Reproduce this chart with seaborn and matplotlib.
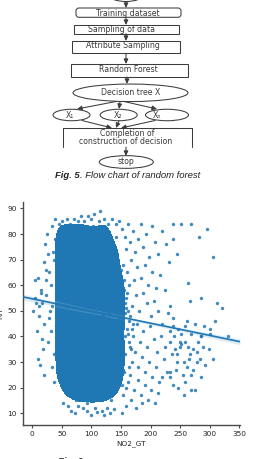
import matplotlib
matplotlib.use("Agg")
import matplotlib.pyplot as plt
from matplotlib.patches import Ellipse, FancyBboxPatch, Rectangle
from matplotlib.colors import ListedColormap
import numpy as np
import seaborn as sns

# ---------------- data ----------------
flow_labels = ["Training dataset", "Sampling of data", "Attribute Sampling",
               "Random Forest", "Decision tree X", "X\u2081", "X\u2082", "X\u2099",
               "Completion of", "construction of decision", "stop"]
caption_top = ["Fig. 5", ". Flow chart of random forest"]
caption_bottom = ["Fig. 6", ". Prediction of RH with NO2"]

x_label = "NO2_GT"
y_label = "RH"
x_ticks = [0, 50, 100, 150, 200, 250, 300, 350]
y_ticks = [10, 20, 30, 40, 50, 60, 70, 80, 90]

# dense core of the cloud
core_no2 = [47, 50, 46, 49, 48, 51, 47, 50, 48,
            57, 60, 56, 59, 58, 61, 57, 60, 58, 59,
            68, 66, 69, 67, 70, 68, 66, 69, 67, 70,
            78, 76, 79, 77, 80, 78, 76, 79, 77, 80,
            88, 86, 89, 87, 90, 88, 86, 89, 87, 90,
            98, 96, 99, 97, 100, 98, 96, 99, 97, 100,
            108, 106, 109, 107, 110, 108, 106, 109, 107, 110,
            118, 116, 119, 117, 120, 118, 116, 119, 117, 120,
            128, 126, 129, 127, 130, 128, 126, 129, 127,
            138, 136, 139, 137, 140, 138, 136, 139,
            146, 148, 145, 147, 149, 146]
core_rh = [27, 34, 41, 48, 55, 61, 67, 73, 78,
           22, 29, 36, 43, 50, 56, 62, 68, 73, 78,
           21, 28, 35, 42, 49, 55, 61, 67, 73, 78,
           20, 27, 34, 41, 48, 54, 60, 66, 72, 78,
           20, 27, 34, 41, 48, 54, 60, 66, 72, 78,
           20, 26, 33, 40, 47, 53, 59, 65, 71, 77,
           20, 26, 33, 40, 47, 53, 59, 65, 71, 77,
           20, 27, 34, 41, 48, 54, 60, 66, 72, 78,
           21, 28, 35, 42, 49, 56, 63, 70, 77,
           22, 29, 36, 43, 50, 57, 64, 71,
           26, 33, 40, 47, 54, 61]

# ragged edge of the core
edge_no2 = [45, 50, 58, 63, 70, 78, 83, 88, 95, 100, 105, 112, 115, 122, 128, 135, 142, 147,
            52, 60, 66, 72, 78, 85, 92, 100, 106, 110, 118, 121, 126, 131, 138, 152,
            40, 42, 44, 41, 45, 43,
            54, 67, 74, 92, 103, 118, 133, 141, 150, 153, 155, 151]
edge_rh = [84, 85, 86, 84, 86, 85, 87, 85, 87, 86, 88, 85, 89, 86, 84, 86, 84, 85,
           14, 13, 11, 10, 13, 12, 11, 9.5, 12, 10.5, 11, 9.5, 12, 10, 11.5, 10,
           34, 58, 68, 49, 24, 78,
           82, 83, 15, 14, 83, 82, 15, 79, 66, 27, 58, 21]

# sparse points left of the core
left_no2 = [2, 4, 6, 9, 8, 12, 14, 16, 10, 13, 18, 20, 15, 24, 30, 35, 38, 33, 25, 22,
            20, 26, 28, 31, 24, 17, 29, 27, 33, 36, 37, 34, 11, 5, 32, 36, 39, 40, 19, 23]
left_rh = [50, 62, 53, 63, 42, 48, 57, 39, 31, 29, 35, 25, 58, 66, 50, 73, 86, 83, 80, 76,
           69, 72, 65, 60, 56, 53, 47, 38, 28, 22, 70, 52, 52, 55, 42, 33, 78, 44, 45, 62]

# medium-density band right of the core
mid_no2 = [151, 156, 162, 158, 165, 170, 174, 179, 184, 188, 193, 197, 203, 208, 213, 219, 226, 231,
           153, 160, 167, 172, 177, 183, 190, 196, 202, 209, 216, 224,
           152, 158, 164, 169, 175, 181, 187, 194, 200, 206, 212, 220, 229,
           154, 160, 166, 171, 177, 182, 188, 194, 199, 205, 211, 217, 225, 232,
           151, 157, 163, 168, 174, 179, 185, 191, 197, 203, 209, 215, 222, 228,
           155, 161, 166, 172, 178, 184, 190, 196, 201, 207, 213, 220,
           153, 159, 167, 176, 186,
           150, 155, 162, 157, 150, 163, 152, 158, 165, 170, 160, 167,
           153, 157, 161, 156, 164, 152, 159, 168]
mid_rh = [82, 79, 84, 74, 77, 81, 73, 78, 84, 75, 80, 71, 83, 77, 72, 81, 76, 69,
          68, 65, 70, 62, 67, 63, 68, 60, 65, 59, 64, 58,
          58, 55, 60, 52, 56, 50, 57, 53, 48, 54, 50, 45, 49,
          47, 43, 48, 40, 45, 38, 42, 36, 44, 39, 34, 40, 36, 42,
          36, 33, 38, 30, 34, 28, 32, 26, 30, 24, 28, 22, 31, 26,
          26, 22, 25, 19, 23, 17, 21, 15, 19, 14, 18, 24,
          17, 13, 15, 12, 14,
          42, 62, 50, 40, 45, 28, 30, 20, 36, 45, 57, 35,
          44, 49, 41, 53, 46, 39, 51, 43]

# scattered high-NO2 points
far_no2 = [252, 268, 263, 295, 266, 306, 282, 275, 252, 301, 309, 289, 285, 266, 312, 320, 286,
           258, 261, 269, 286, 331, 258, 271, 283, 269, 255, 278, 278, 258, 247, 238, 238, 244,
           238, 241, 233, 238, 247, 233, 244, 233, 238, 250, 262, 290, 245, 252, 275, 300, 265,
           240, 256, 232, 236, 243, 249, 257, 263, 272, 281, 292, 298, 285, 305, 268]
far_rh = [84, 84, 61, 82, 54, 71, 79, 45, 37, 41, 46, 36, 55, 33, 53, 51, 40,
          44, 46, 41, 40, 40, 38, 35, 31, 25, 25, 30, 34, 22, 20, 84, 78, 72,
          44, 35, 52, 47, 43, 38, 30, 26, 21, 36, 28, 44, 33, 41, 19, 43, 31,
          40, 17, 24, 33, 27, 38, 30, 36, 27, 38, 29, 35, 24, 31, 19]

no2 = np.array(core_no2 + edge_no2 + left_no2 + mid_no2 + far_no2, dtype=float)
rh = np.array(core_rh + edge_rh + left_rh + mid_rh + far_rh, dtype=float)

# ---------------- style ----------------
sns.set_theme(style="ticks")
plt.rcParams["font.family"] = ["DejaVu Sans"]

BLUE = "#1f77b4"
LC = "#3c3c3c"
LW = 0.75
W, H = 261, 459

fig = plt.figure(figsize=(W / 100, H / 100), dpi=100)
fig.patch.set_facecolor("white")

# ---------------- flow chart (pixel coordinates) ----------------
fax = fig.add_axes([0, 0, 1, 1])
fax.set_xlim(0, W)
fax.set_ylim(H, 0)
fax.axis("off")

tkw = dict(family="DejaVu Sans", fontsize=5.6, color="#3a3a3a", ha="center", va="center")


def arrow(x0, y0, x1, y1):
    fax.annotate("", xy=(x1, y1), xytext=(x0, y0),
                 arrowprops=dict(arrowstyle="-|>,head_length=0.28,head_width=0.13",
                                 lw=LW, color=LC, shrinkA=0, shrinkB=0, mutation_scale=10))


def ell(cx, cy, w, h):
    fax.add_patch(Ellipse((cx, cy), w, h, fill=False, ec=LC, lw=LW))


def rect(x0, y0, x1, y1):
    fax.add_patch(Rectangle((x0, y0), x1 - x0, y1 - y0, fill=False, ec=LC, lw=LW))


ell(126, -5, 34, 13)
arrow(126, 1.5, 126, 8)
fax.add_patch(FancyBboxPatch((76, 8), 105, 9.3, boxstyle="round,pad=0,rounding_size=3",
                             fill=False, ec=LC, lw=LW))
fax.text(128, 13, flow_labels[0], **tkw)
arrow(126, 17.3, 126, 25)
rect(74, 25, 179, 33.7)
fax.text(121, 29.6, flow_labels[1], **tkw)
arrow(126, 33.7, 126, 41)
rect(72, 41, 180, 53.3)
fax.text(122.5, 46, flow_labels[2], **tkw)
arrow(126, 53.3, 126, 64)
rect(71, 64, 188, 77)
fax.text(128.5, 70, flow_labels[3], **tkw)
arrow(127, 77, 127, 84)
ell(130.5, 92.8, 115, 17.5)
fax.text(130.5, 92.6, flow_labels[4], **tkw)
arrow(116, 101.5, 77, 109)
arrow(120, 101.6, 119, 109)
arrow(124, 101.5, 157, 109)
ell(71.5, 115, 37, 11.5)
ell(118.7, 115, 37, 11.5)
ell(167, 115, 43, 11.5)
fax.text(70, 115, flow_labels[5], **tkw)
fax.text(118, 115, flow_labels[6], **tkw)
fax.text(157, 115, flow_labels[7], **tkw)
arrow(82, 120.5, 112, 128)
arrow(119, 120.8, 116, 128)
arrow(155, 120.5, 121, 128)
fax.plot([63, 63, 192, 192], [147, 128, 128, 147], color=LC, lw=LW)
fax.text(127, 134, flow_labels[8], **tkw)
t2 = fax.text(126, 142, flow_labels[9], **tkw)
t2.set_clip_path(Rectangle((55, 120), 150, 25.5, transform=fax.transData))
arrow(126, 147, 126, 156)
ell(126.3, 162, 54, 12.7)
fax.text(126.3, 161.7, flow_labels[10], **tkw)

ckw = dict(family="Liberation Sans", fontsize=6.8, color="#222222", va="center")
c1 = fax.text(55, 175.5, caption_top[0], fontweight="bold", fontstyle="italic", ha="left", **ckw)
fax.annotate(caption_top[1], xy=(1, 0.5), xycoords=c1, ha="left", fontstyle="italic", **ckw)

# caption of the next figure, cut by the bottom edge (only glyph tops show)
bkw = dict(family="Liberation Sans", fontsize=6.8, color="#333333", va="baseline")
b1 = fax.text(58, 463.6, caption_bottom[0], fontweight="bold", fontstyle="italic", ha="left", **bkw)
fax.annotate(caption_bottom[1], xy=(1, 0), xycoords=b1, ha="left", fontstyle="italic",
             annotation_clip=False, **bkw)

# ---------------- scatter + regression ----------------
ax = fig.add_axes([23 / W, (H - 425) / H, 217 / W, 223 / H])
ax.set_facecolor("none")
sns.kdeplot(x=core_no2, y=core_rh, fill=True, levels=[0.05, 1], bw_adjust=0.55,
            cmap=ListedColormap([BLUE]), alpha=1.0, ax=ax, zorder=1)
XL = (-15.7, 351.2)
YL = (5.4, 92.5)
ax.set_xlim(*XL)
ax.set_ylim(*YL)
sns.regplot(x=no2, y=rh, ax=ax, color=BLUE, ci=40, n_boot=400, seed=3, truncate=False,
            scatter_kws=dict(s=6, linewidths=0, alpha=0.85, zorder=2),
            line_kws=dict(lw=1.2, zorder=4))
ax.set_xlim(*XL)
ax.set_ylim(*YL)
ax.set_xticks(x_ticks)
ax.set_yticks(y_ticks)
sns.despine(ax=ax)
for s in ("left", "bottom"):
    ax.spines[s].set_color("#4a4a4a")
    ax.spines[s].set_linewidth(1.0)
ax.tick_params(axis="both", labelsize=5.3, length=2.4, width=0.8, color="#4a4a4a",
               labelcolor="#262626", pad=2.0)
ax.set_xlabel(x_label, fontsize=5.3, color="#262626")
ax.set_ylabel(y_label, fontsize=5.3, color="#262626")
ax.xaxis.set_label_coords(0.5, -0.068)
ax.xaxis.label.set_va("top")
ax.yaxis.set_label_coords(-0.092, 0.5)

fig.savefig("out.png", dpi=100, facecolor="white")
